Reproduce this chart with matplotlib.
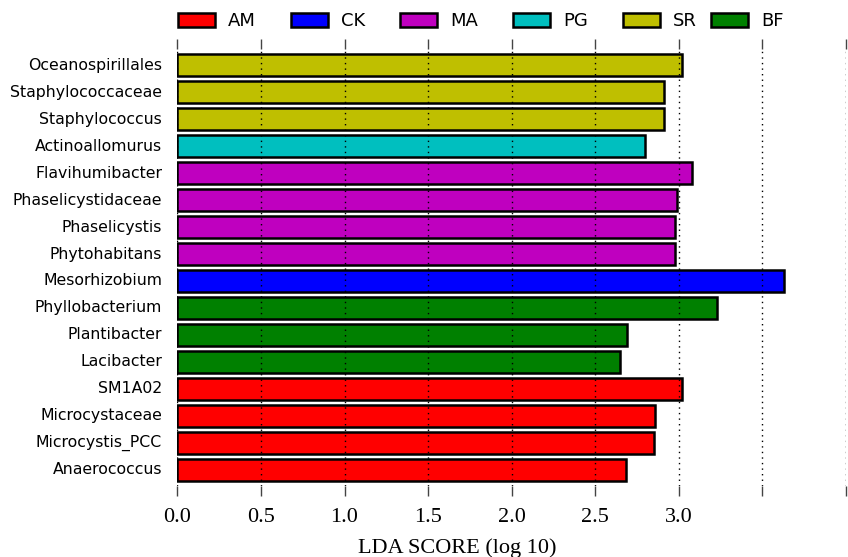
import matplotlib
matplotlib.use("Agg")
import matplotlib.pyplot as plt
from matplotlib.patches import Patch

# taxa, top to bottom
taxa = ["Oceanospirillales", "Staphylococcaceae", "Staphylococcus", "Actinoallomurus",
        "Flavihumibacter", "Phaselicystidaceae", "Phaselicystis", "Phytohabitans",
        "Mesorhizobium", "Phyllobacterium", "Plantibacter", "Lacibacter",
        "SM1A02", "Microcystaceae", "Microcystis_PCC", "Anaerococcus"]
lda = [3.02, 2.91, 2.91, 2.80,
       3.08, 2.99, 2.98, 2.976,
       3.63, 3.23, 2.69, 2.65,
       3.02, 2.86, 2.855, 2.685]
group = ["SR", "SR", "SR", "PG",
         "MA", "MA", "MA", "MA",
         "CK", "BF", "BF", "BF",
         "AM", "AM", "AM", "AM"]

legend_groups = ["AM", "CK", "MA", "PG", "SR", "BF"]
group_colors = {"AM": "r", "CK": "b", "MA": "m", "PG": "c", "SR": "y", "BF": "g"}

xticks = [0.0, 0.5, 1.0, 1.5, 2.0, 2.5, 3.0, 3.5, 4.0]
xticklabels = ["0.0", "0.5", "1.0", "1.5", "2.0", "2.5", "3.0", "", ""]

plt.style.use("classic")
fig = plt.figure(figsize=(8.48, 5.57), dpi=100, facecolor="white")
ax = fig.add_axes([0.2093, 0.1275, 0.7879, 0.7845])

n = len(taxa)
ypos = [n - 1 - i for i in range(n)]
ax.barh(ypos, lda, height=0.8, align="center",
        color=[group_colors[g] for g in group], edgecolor="black", linewidth=1.8, zorder=2)

ax.set_xlim(0, 4.0)
ax.set_ylim(-0.6, n - 1 + 0.6)
ax.set_yticks(ypos)
ax.set_yticklabels(taxa, fontsize=11.3, family="DejaVu Sans")
ax.tick_params(axis="y", length=0, pad=11)

ax.set_xticks(xticks)
ax.set_xticklabels(xticklabels, fontsize=16, family="Liberation Serif")
ax.tick_params(axis="x", direction="out", length=7.5, width=1, color="#444444",
               top=True, bottom=True, pad=8)
ax.set_xlabel("LDA SCORE (log 10)", fontsize=16, family="Liberation Serif")
ax.xaxis.set_label_coords(0.4185, -0.12)

for s in ax.spines.values():
    s.set_visible(False)

ax.grid(axis="x", color="black", linestyle=":", linewidth=1, zorder=3)
ax.grid(axis="y", visible=False)
ax.set_axisbelow(False)

# legend: last entry sits a bit closer in the original
handles = [Patch(facecolor=group_colors[g], edgecolor="black", linewidth=1.8) for g in legend_groups]
leg_kw = dict(loc="upper left", frameon=False, handlelength=2.05, handleheight=0.78,
              handletextpad=0.72, columnspacing=1.94, borderpad=0,
              prop={"family": "DejaVu Sans", "size": 13})
fig.legend(handles[:5], legend_groups[:5], ncol=5, bbox_to_anchor=(0.1993, 0.994), **leg_kw)
fig.legend(handles[5:], legend_groups[5:], ncol=1, bbox_to_anchor=(0.8278, 0.994), **leg_kw)

fig.savefig("out.png", dpi=100, facecolor="white")
